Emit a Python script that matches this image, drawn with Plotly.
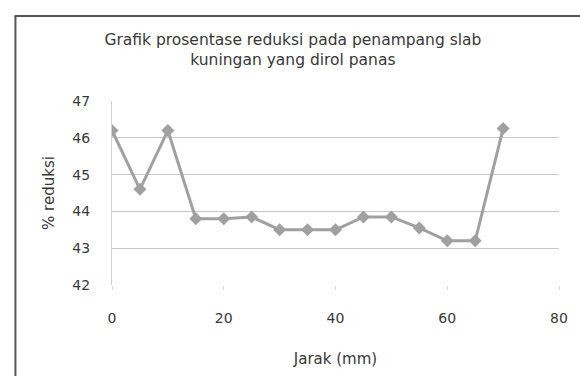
import plotly.graph_objects as go

# Distance along the slab cross-section (mm) and percent reduction
jarak_mm = [0, 5, 10, 15, 20, 25, 30, 35, 40, 45, 50, 55, 60, 65, 70]
reduksi_pct = [46.2, 44.6, 46.2, 43.8, 43.8, 43.85, 43.5, 43.5, 43.5,
               43.85, 43.85, 43.55, 43.2, 43.2, 46.25]

x_ticks = [0, 20, 40, 60, 80]
y_ticks = [42, 43, 44, 45, 46, 47]

font_family = "DejaVu Sans, sans-serif"
text_color = "#383838"

fig = go.Figure(
    go.Scatter(
        x=jarak_mm,
        y=reduksi_pct,
        mode="lines+markers",
        line=dict(color="#a0a0a0", width=3),
        marker=dict(symbol="diamond", size=10, color="#a0a0a0"),
        showlegend=False,
    )
)

fig.update_layout(
    width=580,
    height=376,
    paper_bgcolor="white",
    plot_bgcolor="white",
    margin=dict(l=112, r=18, t=101, b=91),
    font=dict(family=font_family, color=text_color, size=13),
    title=dict(
        text="Grafik prosentase reduksi pada penampang slab<br>kuningan yang dirol panas",
        x=0.505,
        xanchor="center",
        y=0.88,
        yanchor="top",
        font=dict(family=font_family, size=15.5, color=text_color),
    ),
)

fig.update_xaxes(
    range=[0, 80],
    tickvals=x_ticks,
    showgrid=False,
    zeroline=False,
    showline=False,
    ticks="outside",
    ticklen=4,
    tickcolor="#d8d8d8",
    ticklabelstandoff=16,
    tickfont=dict(size=14, color=text_color),
    title=dict(text="Jarak (mm)", font=dict(size=15, color=text_color), standoff=28),
)

fig.update_yaxes(
    range=[42, 47],
    tickvals=y_ticks,
    showgrid=True,
    gridcolor="#c8c8c8",
    gridwidth=1,
    zeroline=False,
    showline=True,
    linecolor="#d0d0d0",
    linewidth=1,
    ticks="",
    ticklabelstandoff=18,
    tickfont=dict(size=14, color=text_color),
    title=dict(text="% reduksi", font=dict(size=15, color=text_color), standoff=14),
)

# Chart frame: top and left edges of the outer box
fig.add_shape(type="line", xref="paper", yref="paper",
              x0=-0.218, x1=1.05, y0=1.462, y1=1.462,
              line=dict(color="#555555", width=2))
fig.add_shape(type="line", xref="paper", yref="paper",
              x0=-0.216, x1=-0.216, y0=1.462, y1=-0.6,
              line=dict(color="#555555", width=2))

fig.write_html("out.html")
